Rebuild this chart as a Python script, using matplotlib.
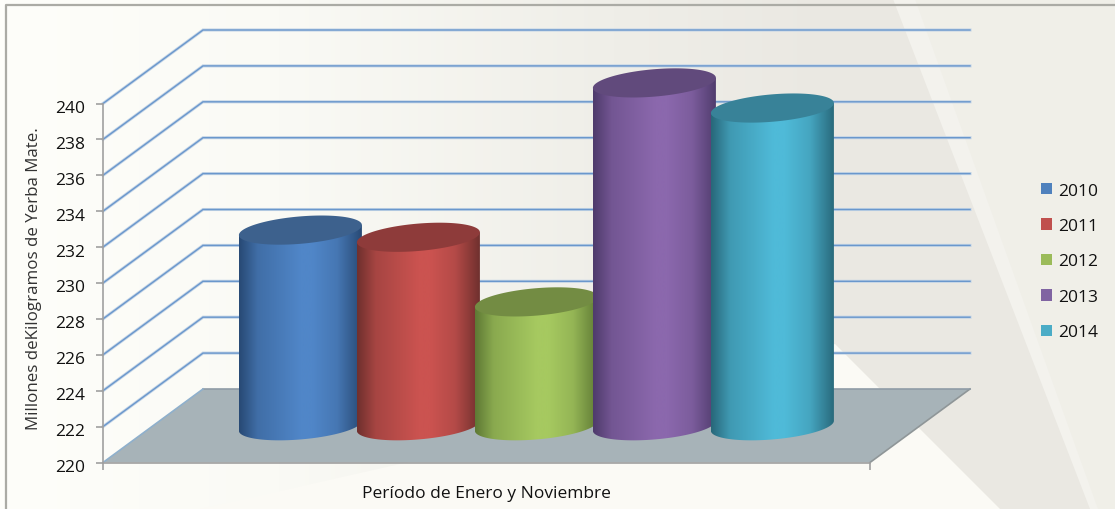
import numpy as np
import matplotlib
matplotlib.use('Agg')
import matplotlib.pyplot as plt
from matplotlib.colors import LinearSegmentedColormap, to_rgb
from matplotlib.patches import Patch, Polygon
from matplotlib.transforms import ScaledTranslation

plt.rcParams['font.family'] = ['Open Sans', 'DejaVu Sans']

# data
years = ['2010', '2011', '2012', '2013', '2014']
values = [230.9, 230.5, 226.9, 239.1, 237.7]
y_ticks = list(range(220, 241, 2))

# colours: edge of the side, middle of the side, top face, legend box
side_dark = ['#284a75', '#70302e', '#5f7a35', '#4f3b6c', '#28687a']
side_mid = ['#5086c8', '#cb5350', '#a6c960', '#8b68ad', '#4fbad8']
top_face = ['#3d618d', '#8e3b3a', '#738c43', '#614a7c', '#388298']
legend_colors = ['#4f81bd', '#c0504d', '#9bbb59', '#8064a2', '#4bacc6']

W, H = 1115, 510
fig = plt.figure(figsize=(W / 100, H / 100), dpi=100)

# background of the slide
bg = fig.add_axes([0, 0, 1, 1], zorder=0)
bg.set_xlim(0, W)
bg.set_ylim(H, 0)
bg.axis('off')
bg_cmap = LinearSegmentedColormap.from_list('bg', [(0, '#fefefa'), (0.25, '#fafaf5'), (0.55, '#efeee8'),
                                                   (0.75, '#eae8e2'), (1, '#eae8e2')])
bg.imshow(np.linspace(0, 1, 256).reshape(1, -1), extent=[0, W, H, 0], cmap=bg_cmap, aspect='auto')
bg.add_patch(Polygon([(835, 345), (1000, 510), (200, 510), (400, 465)], color='#fbfaf5', lw=0))
bg.add_patch(Polygon([(897, 0), (W, 0), (W, H), (1095, H)], color='#f0efe8', lw=0))
bg.add_patch(Polygon([(893, 0), (915, 0), (1098, H), (1090, H)], color='#f3f2ed', lw=0))
bg.set_xlim(0, W)
bg.set_ylim(H, 0)
bg.plot([6, 6, W], [H, 5.5, 5.5], color='#ababa5', lw=1.6)

# chart axes: front plane of the 3d box
x0, x1, y0, y1 = 103, 870, 463.5, 104.5
ax = fig.add_axes([x0 / W, 1 - y0 / H, (x1 - x0) / W, (y0 - y1) / H], zorder=1)
ax.patch.set_alpha(0)
ax.set_xlim(0, 1)
ax.set_ylim(220, 240)

depth_x = 100 / (x1 - x0)
depth_y = 73.5 / ((y0 - y1) / 20)

# floor
ax.add_patch(Polygon([(0, 220), (1, 220), (1 + depth_x, 220 + depth_y), (depth_x, 220 + depth_y)],
                     facecolor='#a7b3b8', edgecolor='none', clip_on=False, zorder=1))
ax.plot([1, 1 + depth_x], [220, 220 + depth_y], color='#8f9698', lw=1.2, clip_on=False, zorder=1.5)
ax.plot([depth_x, 1 + depth_x], [220 + depth_y] * 2, color='#8f9ca6', lw=1.2, clip_on=False, zorder=1.5)
ax.plot([0, depth_x], [220, 220 + depth_y], color='#8fb0cc', lw=1.2, clip_on=False, zorder=1.5)

# grid lines on side wall and back wall
for v in y_ticks[1:]:
    ax.plot([0, depth_x, 1 + depth_x], [v, v + depth_y, v + depth_y],
            color='#c3d4e6', lw=2.2, clip_on=False, zorder=1, solid_joinstyle='miter')
    ax.plot([0, depth_x, 1 + depth_x], [v, v + depth_y, v + depth_y],
            color='#6a97cc', lw=1.0, clip_on=False, zorder=1.1, solid_joinstyle='miter')

# cylinders
first_left = 0.112
step = 118 / (x1 - x0)
width = 123 / (x1 - x0)
a = width / 2
b = 13.7 / ((y0 - y1) / 20)
shear = 5 / ((y0 - y1) / 20)
t = np.linspace(0, 2 * np.pi, 181)
base = 220 + depth_y / 2
stops = [(0, 0), (0.15, 0.6), (0.5, 1), (0.6, 1), (0.8, 0.75), (0.95, 0.2), (1, 0)]

for i, v in enumerate(values):
    cx = first_left + i * step + a + depth_x / 2
    top = v + depth_y / 2
    ex = cx + a * np.cos(t)
    eoff = shear * np.cos(t) + b * np.sin(t)
    front = t[:91]
    fx = cx + a * np.cos(front)
    fy = base + shear * np.cos(front) - b * np.sin(front)
    side = Polygon(np.vstack([np.column_stack([fx, fy]),
                              [(cx - a, top - shear), (cx + a, top + shear)]]),
                   facecolor='none', edgecolor='none', clip_on=False)
    ax.add_patch(side)
    dark, mid = np.array(to_rgb(side_dark[i])), np.array(to_rgb(side_mid[i]))
    cmap = LinearSegmentedColormap.from_list('c', [(p, tuple(dark + (mid - dark) * m)) for p, m in stops])
    im = ax.imshow(np.linspace(0, 1, 128).reshape(1, -1), extent=[cx - a, cx + a, 218, 246], cmap=cmap,
                   aspect='auto', zorder=2 + i * 0.1)
    im.set_clip_box(fig.bbox)
    im.set_clip_path(side)
    ax.add_patch(Polygon(np.column_stack([ex, top + eoff]), facecolor=top_face[i], edgecolor='none',
                         clip_on=False, zorder=2.05 + i * 0.1))

ax.set_xlim(0, 1)
ax.set_ylim(220, 240)

# axes lines and labels
for s in ['top', 'right']:
    ax.spines[s].set_visible(False)
for s in ['left', 'bottom']:
    ax.spines[s].set_color('#a0a0a0')
    ax.spines[s].set_linewidth(1.2)
    ax.spines[s].set_zorder(3)
ax.set_yticks(y_ticks)
ax.set_xticks([0, 1])
ax.set_xticklabels([])
ax.tick_params(axis='both', color='#a0a0a0', length=5, width=1.2)
ax.tick_params(axis='y', labelsize=12.5, pad=8, labelcolor='#111111')
# tick labels sit a little below their ticks
shift = ScaledTranslation(0, -2.5 / 100, fig.dpi_scale_trans)
for label in ax.get_yticklabels():
    label.set_transform(label.get_transform() + shift)
ax.set_xlabel('Período de Enero y Noviembre', fontsize=12.5, color='#111111')
ax.xaxis.set_label_coords(0.5, -0.062, transform=ax.transAxes)
ax.set_ylabel('Millones deKilogramos de Yerba Mate.', fontsize=12.2, color='#333333')
ax.yaxis.set_label_coords(-0.079, 0.514)

handles = [Patch(facecolor=legend_colors[i], label=y) for i, y in enumerate(years)]
fig.legend(handles=handles, loc='center left', bbox_to_anchor=(1025 / W, 1 - 262.5 / H), frameon=False,
           fontsize=12.5, handlelength=0.63, handleheight=0.63, handletextpad=0.4, labelspacing=1.12,
           labelcolor='#111111')

fig.savefig('out.png', dpi=100)
